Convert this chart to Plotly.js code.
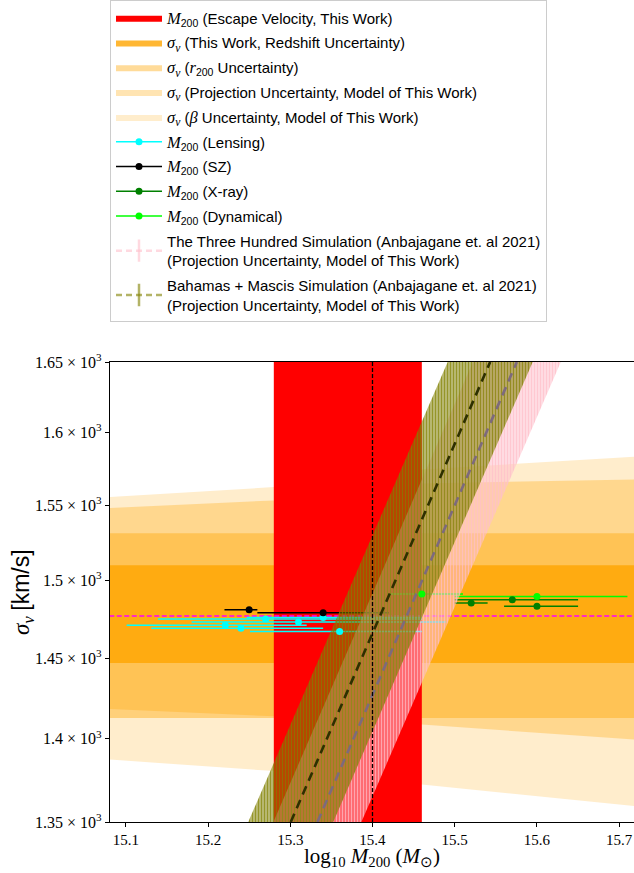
<!DOCTYPE html>
<html><head><meta charset="utf-8">
<script src="https://cdn.plot.ly/plotly-3.0.1.min.js"></script>
<style>html,body{margin:0;padding:0;background:#fff}</style>
</head><body>
<div id="chart" style="width:634px;height:873px"></div>
<script>
// ---------------- data ----------------
const massRange = [15.0808, 15.718];
const sigmaRange = [1350, 1650];
const massTicks = [15.1, 15.2, 15.3, 15.4, 15.5, 15.6, 15.7];
const massTickText = ['15.1', '15.2', '15.3', '15.4', '15.5', '15.6', '15.7'];
const sigmaTicks = [1350, 1400, 1450, 1500, 1550, 1600, 1650];
const sigmaTickText = ['1.35', '1.4', '1.45', '1.5', '1.55', '1.6', '1.65'];

// M200 from escape velocity (this work)
const escapeMass = [15.28, 15.46];
const escapeCenter = 15.40;

// sigma_v of this work
const sigmaCenter = 1477;
const redshiftBand = [1447, 1510];
const r200Band = [1412.7, 1531.3];
const bandMass = [15.08, 15.28, 15.46, 15.72];
const projLow = [1418.3, 1413.7, 1408.6, 1399.4];
const projHigh = [1548.2, 1553.3, 1564.9, 1567.6];
const betaLow = [1387.3, 1380.3, 1372.2, 1359.3];
const betaHigh = [1555.6, 1562.4, 1574.4, 1583.3];

// simulation relations (mass at sigma = 1350 and 1650), half-width in mass
const threeHundredMass = [15.333, 15.5755];
const threeHundredHalf = 0.0535;
const bahamasMass = [15.3006, 15.5431];
const bahamasHalf = 0.0517;

// literature masses
const lensMass = [15.221, 15.240, 15.270, 15.310, 15.340, 15.360];
const lensSigma = [1471, 1469, 1475, 1473, 1476, 1467];
const lensMinus = [0.120, 0.109, 0.131, 0.130, 0.093, 0.109];
const lensPlus = [0.099, 0.100, 0.190, 0.179, 0.120, 0.100];

const szMass = [15.25, 15.34];
const szSigma = [1481, 1479];
const szMinus = [0.030, 0.080];
const szPlus = [0.010, 0.080];

const xrayMass = [15.52, 15.57, 15.60];
const xraySigma = [1485.3, 1487.4, 1483.3];
const xrayMinus = [0.020, 0.070, 0.040];
const xrayPlus = [0.020, 0.080, 0.050];

const dynMass = [15.46, 15.60];
const dynSigma = [1491.2, 1489.5];
const dynMinus = [0.040, 0.100];
const dynPlus = [0.050, 0.110];

const labels = [
  '<i>M</i><sub>200</sub> (Escape Velocity, This Work)',
  '<i>σ<sub>v</sub></i> (This Work, Redshift Uncertainty)',
  '<i>σ<sub>v</sub></i> (<i>r</i><sub>200</sub> Uncertainty)',
  '<i>σ<sub>v</sub></i> (Projection Uncertainty, Model of This Work)',
  '<i>σ<sub>v</sub></i> (<i>β</i> Uncertainty, Model of This Work)',
  '<i>M</i><sub>200</sub> (Lensing)',
  '<i>M</i><sub>200</sub> (SZ)',
  '<i>M</i><sub>200</sub> (X-ray)',
  '<i>M</i><sub>200</sub> (Dynamical)',
  'The Three Hundred Simulation (Anbajagane et. al 2021)<br>(Projection Uncertainty, Model of This Work)',
  'Bahamas + Mascis Simulation (Anbajagane et. al 2021)<br>(Projection Uncertainty, Model of This Work)'
];

// ---------------- styles ----------------
const SERIF = 'Liberation Serif';
const SANS = 'Liberation Sans';
const ORANGE = a => 'rgba(255,165,0,' + a + ')';
const PINK = 'rgba(255,192,203,0.6)';
const OLIVE = 'rgba(128,128,0,0.6)';
const mathify = s => s.replace(/<i>/g, '<span style="font-family:' + SERIF + ';font-size:16.5px"><i>').replace(/<\/i>/g, '</i></span>');

const traces = [];
function hband(xs, lo, hi, color) {
  traces.push({x: xs.concat(xs.slice().reverse()), y: hi.concat(lo.slice().reverse()),
    type: 'scatter', mode: 'lines', fill: 'toself', fillcolor: color, line: {width: 0}, showlegend: false, hoverinfo: 'skip'});
}
const fullMass = [massRange[0] - 0.01, massRange[1] + 0.01];
hband(bandMass, betaLow, betaHigh, ORANGE(0.2));
hband(bandMass, projLow, projHigh, ORANGE(0.3));
hband(fullMass, [r200Band[0], r200Band[0]], [r200Band[1], r200Band[1]], ORANGE(0.4));
hband(fullMass, [redshiftBand[0], redshiftBand[0]], [redshiftBand[1], redshiftBand[1]], ORANGE(0.8));

// escape velocity mass band
traces.push({x: [escapeMass[0], escapeMass[1], escapeMass[1], escapeMass[0]],
  y: [sigmaRange[0], sigmaRange[0], sigmaRange[1], sigmaRange[1]],
  type: 'scatter', mode: 'lines', fill: 'toself', fillcolor: '#ff0000', line: {width: 0}, showlegend: false, hoverinfo: 'skip'});

// sigma_v center
traces.push({x: fullMass, y: [sigmaCenter, sigmaCenter], type: 'scatter', mode: 'lines',
  line: {color: '#ff00ff', width: 1.5, dash: '5px,2.5px'}, showlegend: false, hoverinfo: 'skip'});

function errs(xs, ys, mi, pl, color) {
  traces.push({x: xs, y: ys, type: 'scatter', mode: 'markers', marker: {size: 2, opacity: 0},
    error_x: {type: 'data', symmetric: false, array: pl, arrayminus: mi, color: color, thickness: 1.5, width: 0},
    showlegend: false, hoverinfo: 'skip'});
}
function dots(xs, ys, color) {
  traces.push({x: xs, y: ys, type: 'scatter', mode: 'markers', marker: {size: 7, color: color},
    showlegend: false, hoverinfo: 'skip'});
}
errs(lensMass, lensSigma, lensMinus, lensPlus, '#00ffff');
errs(szMass, szSigma, szMinus, szPlus, '#000000');
errs(xrayMass, xraySigma, xrayMinus, xrayPlus, '#008000');
errs(dynMass, dynSigma, dynMinus, dynPlus, '#00ff00');

function dband(mass, half, fg, bg) {
  traces.push({x: [mass[0] - half, mass[0] + half, mass[1] + half, mass[1] - half],
    y: [sigmaRange[0], sigmaRange[0], sigmaRange[1], sigmaRange[1]],
    type: 'scatter', mode: 'lines', fill: 'toself', fillcolor: bg,
    fillpattern: {shape: '|', size: 3, solidity: 0.45, fgcolor: fg, bgcolor: bg},
    line: {width: 0}, showlegend: false, hoverinfo: 'skip'});
}
dband(threeHundredMass, threeHundredHalf, 'rgba(255,192,203,0.72)', 'rgba(255,192,203,0.5)');
dband(bahamasMass, bahamasHalf, 'rgba(128,128,0,0.68)', 'rgba(128,128,0,0.5)');
traces.push({x: threeHundredMass, y: sigmaRange, type: 'scatter', mode: 'lines',
  line: {color: '#7d6a7d', width: 2.6, dash: '9px,6px'}, showlegend: false, hoverinfo: 'skip'});
traces.push({x: bahamasMass, y: sigmaRange, type: 'scatter', mode: 'lines',
  line: {color: '#2e3000', width: 2.6, dash: '9px,6px'}, showlegend: false, hoverinfo: 'skip'});

dots(lensMass, lensSigma, '#00ffff');
dots(szMass, szSigma, '#000000');
dots(xrayMass, xraySigma, '#008000');
dots(dynMass, dynSigma, '#00ff00');

traces.push({x: [escapeCenter, escapeCenter], y: sigmaRange, type: 'scatter', mode: 'lines',
  line: {color: '#000', width: 1.3, dash: '4px,2px'}, showlegend: false, hoverinfo: 'skip'});

// ---------------- legend entries ----------------
const patchColors = ['#ff0000', ORANGE(0.8), ORANGE(0.4), ORANGE(0.3), ORANGE(0.2)];
patchColors.forEach((c, i) => {
  traces.push({x: [null], y: [null], type: 'scatter', mode: 'lines', fill: 'toself', fillcolor: c,
    line: {width: 0, color: c}, name: mathify(labels[i]), legendgroup: 'g' + i, showlegend: true});
});
const ptColors = ['#00ffff', '#000000', '#008000', '#00ff00'];
ptColors.forEach((c, i) => {
  traces.push({x: [null], y: [null], type: 'scatter', mode: 'lines+markers',
    line: {color: c, width: 1.5}, marker: {color: c, size: 7},
    name: mathify(labels[5 + i]), legendgroup: 'g' + (5 + i), showlegend: true});
});
[PINK, OLIVE].forEach((c, i) => {
  traces.push({x: [null], y: [null], type: 'scatter', mode: 'lines+markers',
    line: {color: c, width: 2.5, dash: '6px,4px'},
    marker: {symbol: 'line-ns', size: 16, color: c, line: {color: c, width: 2.5}},
    name: mathify(labels[9 + i]), legendgroup: 'g' + (9 + i), showlegend: true});
});

const layout = {
  width: 634, height: 873,
  margin: {l: 110, r: 0, t: 362, b: 50.5, autoexpand: false},
  paper_bgcolor: '#fff', plot_bgcolor: '#fff',
  showlegend: true,
  legend: {x: 0, xanchor: 'left', y: 1.786, yanchor: 'top', bgcolor: '#fff',
    bordercolor: '#cccccc', borderwidth: 1, font: {family: SANS, size: 15, color: '#000'},
    traceorder: 'grouped', tracegroupgap: 2.3, itemwidth: 46},
  xaxis: {range: massRange, tickmode: 'array', tickvals: massTicks, ticktext: massTickText,
    ticks: 'outside', ticklen: 4, tickcolor: '#000', showline: true, linecolor: '#000', linewidth: 1.2,
    mirror: true, showgrid: false, zeroline: false, automargin: false,
    tickfont: {family: SERIF, size: 15, color: '#000'}},
  yaxis: {type: 'log', range: [Math.log10(sigmaRange[0]), Math.log10(sigmaRange[1])],
    tickmode: 'array', tickvals: sigmaTicks, ticktext: sigmaTickText.map(s => s + ' × 10<sup>3</sup>'),
    ticks: 'outside', ticklen: 4, tickcolor: '#000', showline: true, linecolor: '#000', linewidth: 1.2,
    showgrid: false, zeroline: false, automargin: false,
    tickfont: {family: SERIF, size: 16, color: '#000'}},
  annotations: [
    {text: 'log<sub>10</sub> <i>M</i><sub>200</sub> (<i>M</i><sub>⊙</sub>)', xref: 'paper', yref: 'paper',
      x: 0.5, y: -0.075, xanchor: 'center', yanchor: 'middle', showarrow: false,
      font: {family: SERIF, size: 21, color: '#000'}},
    {text: '<i>σ<sub>v</sub></i> <span style="font-family:' + SANS + '">[km/s]</span>', xref: 'paper', yref: 'paper',
      x: -0.168, y: 0.5, xanchor: 'center', yanchor: 'middle', textangle: -90, showarrow: false,
      font: {family: SERIF, size: 23, color: '#000'}}
  ]
};

Plotly.newPlot('chart', traces, layout, {displayModeBar: false, staticPlot: true});
</script>
</body></html>
